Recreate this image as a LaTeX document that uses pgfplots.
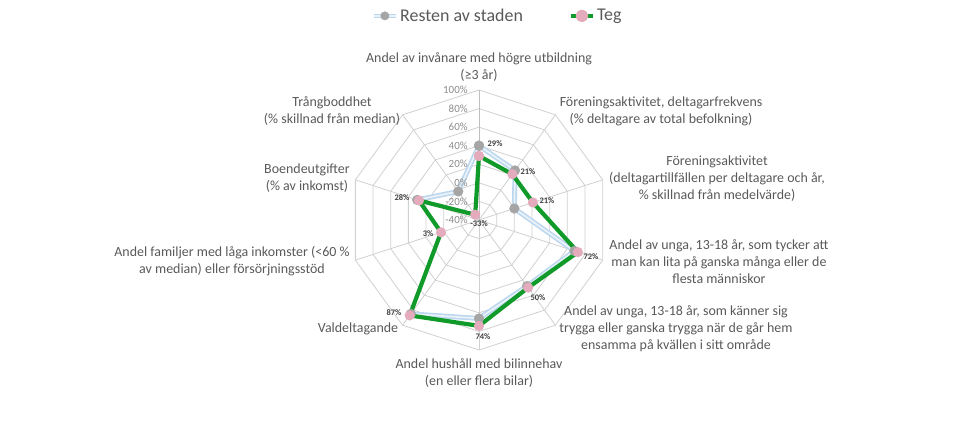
\documentclass[border=0pt]{standalone}
\usepackage{pgfplots}
\pgfplotsset{compat=1.18}
\usepackage{pgfplotstable}
\usepackage{fontspec}
\setmainfont{Carlito}
\definecolor{txt}{HTML}{595959}
\definecolor{tickc}{HTML}{8C8C8C}
\definecolor{dlab}{HTML}{404040}
\definecolor{gridc}{HTML}{D0D0D0}
\definecolor{spoke}{HTML}{BFBFBF}
\definecolor{tegg}{HTML}{109A2A}
\definecolor{tegm}{HTML}{E4ABBD}
\definecolor{restl}{HTML}{BDD7EE}
\definecolor{restw}{HTML}{EAF2FA}
\definecolor{restm}{HTML}{A5A5A5}
\tikzset{
  catlab/.style={font=\fontsize{14}{17}\selectfont, text=txt, align=center},
  ticklab/.style={font=\fontsize{11}{12}\selectfont, text=tickc, anchor=east, inner sep=0pt},
  dl/.style={font=\fontsize{8.5}{9}\selectfont\bfseries, text=dlab, inner sep=0pt},
}

\pgfplotstableread{
ang val
90 29
54 21
18 21
-18 72
-54 50
-90 74
-126 87
-162 3
162 28
126 -33
90 29
}\teg

\pgfplotstableread{
ang val
90 40
54 26
18 0
-18 68
-54 48
-90 66
-126 85
-162 nan
162 30
126 -2
90 40
}\rest

\begin{document}
\begin{tikzpicture}
\begin{axis}[
  scale only axis, width=959bp, height=441bp,
  xmin=-515.85, xmax=516.92, ymin=-238.0, ymax=236.92,
  hide axis, clip=false, unbounded coords=jump,
  legend style={at={(0.5188,0.964)}, anchor=center, draw=none, fill=none,
    legend columns=2, font=\fontsize{18}{20}\selectfont\color{txt},
    /tikz/every even column/.append style={column sep=44bp},
    /tikz/every odd column/.append style={}},
  legend image code/.code={\draw[mark repeat=2,mark phase=2,#1] plot coordinates {(0cm,0cm)(0.39cm,0cm)(0.78cm,0cm)};},
]
\path (rel axis cs:0,0) rectangle (rel axis cs:1,1);
% grid rings
\pgfplotsinvokeforeach{20,40,60,80,100,120,140}{
  \addplot[gridc, line width=0.8pt, data cs=polar, forget plot] coordinates {(90,#1)(54,#1)(18,#1)(-18,#1)(-54,#1)(-90,#1)(-126,#1)(-162,#1)(162,#1)(126,#1)(90,#1)};
}
% spokes
\pgfplotsinvokeforeach{54,18,-18,-54,-90,-126,-162,162,126}{
  \addplot[gridc, line width=0.8pt, data cs=polar, forget plot] coordinates {(#1,0)(#1,140)};
}
\addplot[spoke, line width=1pt, data cs=polar, forget plot] coordinates {(90,0)(90,140)};

% Resten av staden
\addplot[restl, line width=5pt, data cs=polar, forget plot, line join=round] table[x=ang, y expr=\thisrow{val}+40]{\rest};
\addplot[restw, line width=1.7pt, data cs=polar, forget plot, line join=round] table[x=ang, y expr=\thisrow{val}+40]{\rest};
\addplot[only marks, mark=*, mark size=5pt, mark options={fill=restm, draw=restm, line width=0.1pt}, data cs=polar,
  legend image code/.code={\draw[restl, line width=4.5pt] (0cm,0cm) -- (0.78cm,0cm); \draw[restw, line width=1.5pt] (0cm,0cm) -- (0.78cm,0cm); \fill[restm] (0.39cm,0cm) circle (4.2pt);}]
  table[x=ang, y expr=\thisrow{val}+40]{\rest};
\addlegendentry{Resten av staden}

% Teg
\addplot[tegg, line width=4.2pt, line join=round, mark=*, mark size=5pt, mark options={fill=tegm, draw=tegm, line width=0.1pt}, data cs=polar,
  legend image code/.code={\draw[tegg, line width=4pt] (0cm,0cm) -- (0.78cm,0cm); \fill[tegm] (0.39cm,0cm) circle (4.2pt);}]
  table[x=ang, y expr=\thisrow{val}+40]{\teg};
\addlegendentry{Teg}

% tick labels
\node[ticklab] at (axis cs:-12,140) {100\%};
\node[ticklab] at (axis cs:-12,120) {80\%};
\node[ticklab] at (axis cs:-12,100) {60\%};
\node[ticklab] at (axis cs:-12,80) {40\%};
\node[ticklab] at (axis cs:-12,60) {20\%};
\node[ticklab] at (axis cs:-12,40) {0\%};
\node[ticklab] at (axis cs:-12,20) {-20\%};
\node[ticklab] at (axis cs:-12,0) {-40\%};

% category labels
\node[catlab] at (rel axis cs:0.4995,0.849) {Andel av invånare med högre utbildning\\(≥3 år)};
\node[catlab] at (rel axis cs:0.6893,0.7483) {Föreningsaktivitet, deltagarfrekvens\\(\% deltagare av total befolkning)};
\node[catlab] at (rel axis cs:0.7477,0.5952) {Föreningsaktivitet\\(deltagartillfällen per deltagare och år,\\\% skillnad från medelvärde)};
\node[catlab] at (rel axis cs:0.7497,0.4059) {Andel av unga, 13-18 år, som tycker att\\man kan lita på ganska många eller de\\flesta människor};
\node[catlab] at (rel axis cs:0.7049,0.2540) {Andel av unga, 13-18 år, som känner sig\\trygga eller ganska trygga när de går hem\\ensamma på kvällen i sitt område};
\node[catlab] at (rel axis cs:0.4995,0.1531) {Andel hushåll med bilinnehav\\(en eller flera bilar)};
\node[catlab] at (rel axis cs:0.3733,0.2540) {Valdeltagande};
\node[catlab] at (rel axis cs:0.2419,0.4070) {Andel familjer med låga inkomster (<60 \%\\av median) eller försörjningsstöd};
\node[catlab] at (rel axis cs:0.3201,0.5952) {Boendeutgifter\\(\% av inkomst)};
\node[catlab] at (rel axis cs:0.3462,0.7472) {Trångboddhet\\(\% skillnad från median)};

% data labels
\node[dl] at (rel axis cs:0.5162,0.6735) {29\%};
\node[dl] at (rel axis cs:0.5506,0.6100) {21\%};
\node[dl] at (rel axis cs:0.5704,0.5442) {21\%};
\node[dl] at (rel axis cs:0.6163,0.4172) {72\%};
\node[dl] at (rel axis cs:0.5610,0.3243) {50\%};
\node[dl] at (rel axis cs:0.5036,0.2358) {74\%};
\node[dl] at (rel axis cs:0.4108,0.2902) {87\%};
\node[dl] at (rel axis cs:0.4463,0.4694) {3\%};
\node[dl] at (rel axis cs:0.4192,0.5510) {28\%};
\node[dl] at (rel axis cs:0.4995,0.4921) {-33\%};
\end{axis}
\end{tikzpicture}
\end{document}
